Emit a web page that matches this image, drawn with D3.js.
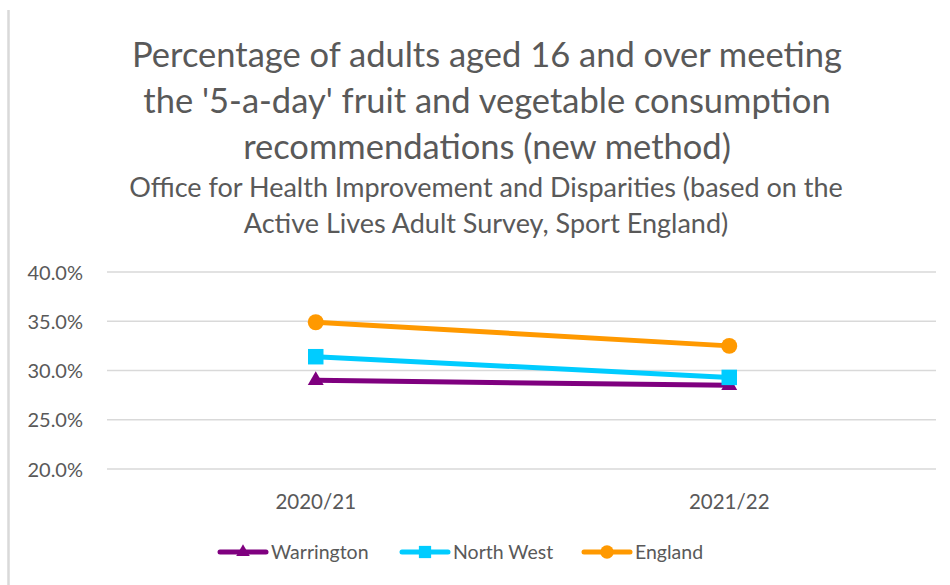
<!DOCTYPE html>
<html>
<head>
<meta charset="utf-8">
<script src="https://cdn.jsdelivr.net/npm/d3@7"></script>
<style>
  body { margin: 0; background: #fff; }
  text { font-family: Lato, "Open Sans", sans-serif; fill: #595959; }
</style>
</head>
<body>
<script>
const categories = ['2020/21', '2021/22'];
const warrington = [29.0, 28.5];
const northWest = [31.4, 29.3];
const england = [34.9, 32.5];
const yTicks = [20, 25, 30, 35, 40];
const titleLines = [
    'Percentage of adults aged 16 and over meeting',
    "the '5-a-day' fruit and vegetable consumption",
    'recommendations (new method)'
];
const subtitleLines = [
    'Office for Health Improvement and Disparities (based on the',
    'Active Lives Adult Survey, Sport England)'
];

const series = [
    {name: 'Warrington', values: warrington, color: '#7F007F', symbol: d3.symbolTriangle},
    {name: 'North West', values: northWest, color: '#00CCFF', symbol: d3.symbolSquare},
    {name: 'England', values: england, color: '#FF9900', symbol: d3.symbolCircle}
];

const W = 950, H = 585;
const plot = {left: 109, right: 936, top: 272, bottom: 469};

const svg = d3.select('body').append('svg')
    .attr('width', W)
    .attr('height', H);

// left border line of the chart box
svg.append('line')
    .attr('x1', 8.5).attr('x2', 8.5)
    .attr('y1', 10).attr('y2', H)
    .attr('stroke', '#d9d9d9')
    .attr('stroke-width', 2.5);

// titles
svg.selectAll('.title')
    .data(titleLines)
    .enter().append('text')
    .attr('class', 'title')
    .attr('x', 487)
    .attr('y', function(d, i) { return 67 + i * 46; })
    .attr('text-anchor', 'middle')
    .style('font-size', '34.5px')
    .text(function(d) { return d; });

svg.selectAll('.subtitle')
    .data(subtitleLines)
    .enter().append('text')
    .attr('class', 'subtitle')
    .attr('x', 486)
    .attr('y', function(d, i) { return 197 + i * 36; })
    .attr('text-anchor', 'middle')
    .style('font-size', '27px')
    .text(function(d) { return d; });

const x = d3.scaleBand()
    .domain(categories)
    .range([plot.left, plot.right]);

const y = d3.scaleLinear()
    .domain([20, 40])
    .range([plot.bottom, plot.top]);

// gridlines
svg.append('g')
    .attr('class', 'grid')
    .selectAll('line')
    .data(yTicks)
    .enter().append('line')
    .attr('x1', plot.left - 2)
    .attr('x2', plot.right)
    .attr('y1', function(d) { return y(d); })
    .attr('y2', function(d) { return y(d); })
    .attr('stroke', '#d9d9d9')
    .attr('stroke-width', 1.5);

const yAxis = d3.axisLeft(y)
    .tickValues(yTicks)
    .tickSize(0)
    .tickPadding(0)
    .tickFormat(function(d) { return d3.format('.1f')(d) + '%'; });

const gy = svg.append('g')
    .attr('transform', 'translate(83,0)')
    .call(yAxis);
gy.select('.domain').remove();
gy.selectAll('text')
    .style('font-size', '20px')
    .attr('dy', '0.35em');

const xAxis = d3.axisBottom(x)
    .tickSize(0)
    .tickPadding(0);

const gx = svg.append('g')
    .attr('transform', 'translate(0,' + 494 + ')')
    .call(xAxis);
gx.select('.domain').remove();
gx.selectAll('text')
    .style('font-size', '20.5px')
    .attr('dy', '0.35em')
    .attr('y', 8);

const line = d3.line()
    .x(function(d, i) { return x(categories[i]) + x.bandwidth() / 2; })
    .y(function(d) { return y(d); });

const lines = svg.selectAll('.series')
    .data(series)
    .enter().append('g')
    .attr('class', 'series');

lines.append('path')
    .attr('d', function(d) { return line(d.values); })
    .attr('fill', 'none')
    .attr('stroke', function(d) { return d.color; })
    .attr('stroke-width', 5)
    .attr('stroke-linecap', 'round');

lines.selectAll('.marker')
    .data(function(d) {
        return d.values.map(function(v, i) {
            return {v: v, i: i, s: d};
        });
    })
    .enter().append('path')
    .attr('class', 'marker')
    .attr('transform', function(d) {
        return 'translate(' + (x(categories[d.i]) + x.bandwidth() / 2) + ',' + y(d.v) + ')';
    })
    .attr('d', function(d) {
        const size = d.s.symbol === d3.symbolTriangle ? 110 : (d.s.symbol === d3.symbolSquare ? 240 : 200);
        return d3.symbol().type(d.s.symbol).size(size)();
    })
    .attr('fill', function(d) { return d.s.color; });

// legend
const legendX = [218, 400, 582];
const legend = svg.selectAll('.legend')
    .data(series)
    .enter().append('g')
    .attr('class', 'legend')
    .attr('transform', function(d, i) { return 'translate(' + legendX[i] + ',552)'; });

legend.append('line')
    .attr('x1', 2).attr('x2', 48)
    .attr('stroke', function(d) { return d.color; })
    .attr('stroke-width', 5)
    .attr('stroke-linecap', 'round');

legend.append('path')
    .attr('transform', 'translate(25,0)')
    .attr('d', function(d) {
        const size = d.symbol === d3.symbolTriangle ? 80 : (d.symbol === d3.symbolSquare ? 150 : 140);
        return d3.symbol().type(d.symbol).size(size)();
    })
    .attr('fill', function(d) { return d.color; });

legend.append('text')
    .attr('x', 53)
    .attr('dy', '0.35em')
    .style('font-size', '19.5px')
    .text(function(d) { return d.name; });
</script>
</body>
</html>
